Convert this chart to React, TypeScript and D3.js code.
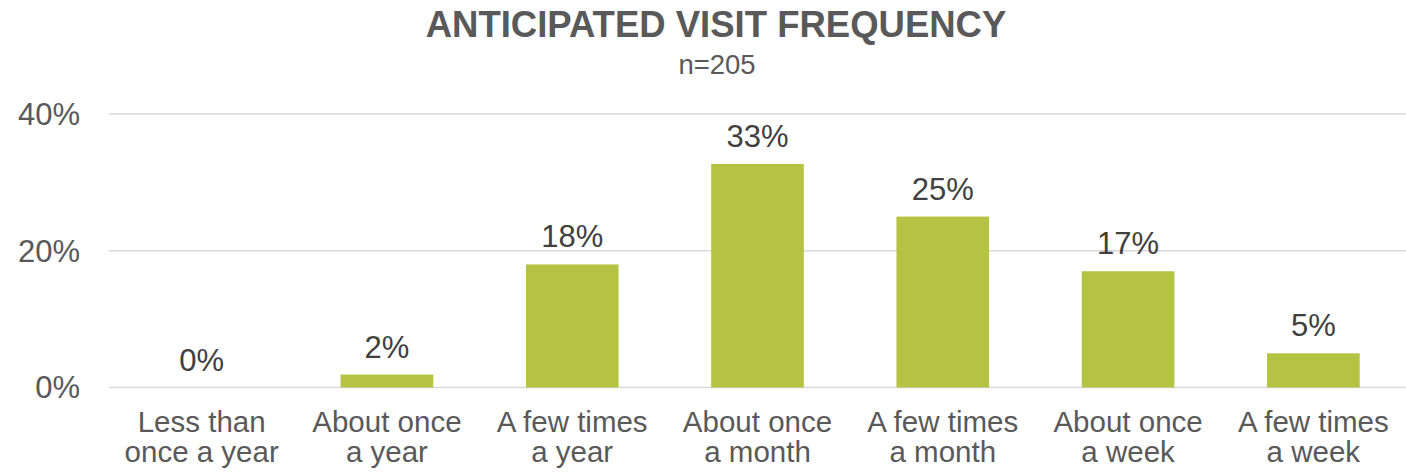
import React from "react";
import * as d3 from "d3";

const categories: string[][] = [
  ["Less than", "once a year"],
  ["About once", "a year"],
  ["A few times", "a year"],
  ["About once", "a month"],
  ["A few times", "a month"],
  ["About once", "a week"],
  ["A few times", "a week"],
];
const values: number[] = [0, 1.9, 18, 32.7, 25, 17, 5];
const valueLabels: string[] = ["0%", "2%", "18%", "33%", "25%", "17%", "5%"];
const yTicks: number[] = [0, 20, 40];
const title = "ANTICIPATED VISIT FREQUENCY";
const subtitle = "n=205";

const W = 1406;
const H = 472;

export default function App() {
  const x = d3
    .scaleBand<number>()
    .domain(categories.map((_, i) => i))
    .range([109, 1406])
    .paddingInner(0.5)
    .paddingOuter(0.25);
  const y = d3.scaleLinear().domain([0, 40]).range([387.5, 114]);
  const font = "'Liberation Sans', Arial, sans-serif";

  return (
    <svg
      width={W}
      height={H}
      style={{ position: "absolute", left: 0, top: 0, display: "block" }}
      fontFamily={font}
    >
      <rect width={W} height={H} fill="#ffffff" />
      <text x={716} y={37} textAnchor="middle" fontSize={36.5} fontWeight="bold" fill="#595959">
        {title}
      </text>
      <text x={717} y={74} textAnchor="middle" fontSize={27.5} fill="#595959">
        {subtitle}
      </text>
      {yTicks.map((t) => (
        <g key={t}>
          <line x1={109} x2={1406} y1={y(t)} y2={y(t)} stroke="#D9D9D9" strokeWidth={1.5} />
          <text x={80} y={y(t)} dy="0.35em" textAnchor="end" fontSize={31} fill="#595959">
            {t + "%"}
          </text>
        </g>
      ))}
      {values.map((v, i) => (
        <g key={i}>
          <rect
            x={x(i)}
            y={y(v)}
            width={x.bandwidth()}
            height={y(0) - y(v)}
            fill="#B4C342"
          />
          <text
            x={(x(i) as number) + x.bandwidth() / 2}
            y={y(v) - 17}
            textAnchor="middle"
            fontSize={31}
            fill="#404040"
          >
            {valueLabels[i]}
          </text>
          {categories[i].map((line, j) => (
            <text
              key={j}
              x={(x(i) as number) + x.bandwidth() / 2}
              y={432 + j * 30}
              textAnchor="middle"
              fontSize={29.5}
              fill="#595959"
            >
              {line}
            </text>
          ))}
        </g>
      ))}
    </svg>
  );
}
